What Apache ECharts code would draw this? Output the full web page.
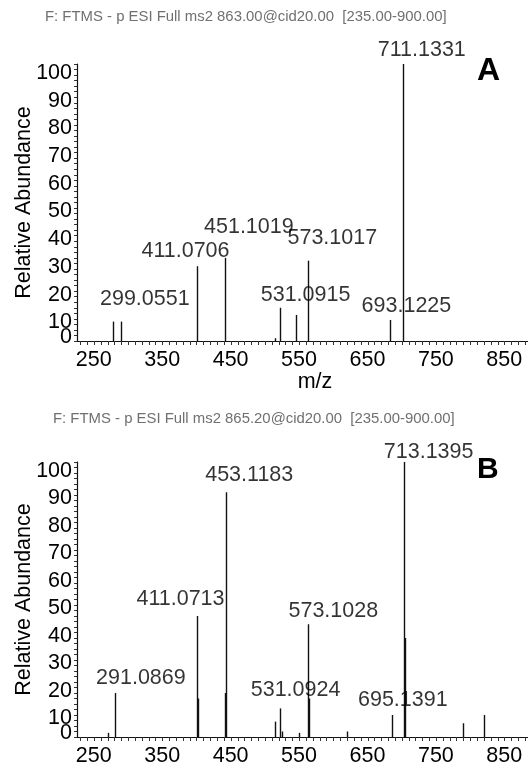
<!DOCTYPE html>
<html><head><meta charset="utf-8">
<script src="https://cdn.jsdelivr.net/npm/echarts@6/dist/echarts.min.js"></script>
<style>html,body{margin:0;padding:0;background:#fff}#c{width:528px;height:765px}</style>
</head><body><div id="c"></div>
<script>
// ---------- data ----------
const xRange = [235, 900];
const xTickLabels = [250, 350, 450, 550, 650, 750, 850];
const yTickLabels = [10, 20, 30, 40, 50, 60, 70, 80, 90, 100];
const yZeroLabel = [0];

const headerA = 'F: FTMS - p ESI Full ms2 863.00@cid20.00  [235.00-900.00]';
const headerB = 'F: FTMS - p ESI Full ms2 865.20@cid20.00  [235.00-900.00]';
const panelLetters = ['A', 'B'];
const xTitle = 'm/z';
const yTitle = 'Relative Abundance';

// Panel A spectrum (m/z, relative abundance)
const peaksA_mz  = [288.0, 299.06, 411.07, 451.10, 524.0, 531.09, 555.0, 573.10, 693.12, 711.13];
const peaksA_int = [7,     7,      27,     30,     1,     12,     9.4,   29,     7.6,    100];
// labelled peaks A
const labA_mz   = [299.06, 411.07, 451.10, 531.09, 573.10, 693.12, 711.13];
const labA_int  = [7, 27, 30, 12, 29, 7.6, 100];
const labA_text = ['299.0551', '411.0706', '451.1019', '531.0915', '573.1017', '693.1225', '711.1331'];

// Panel B spectrum
const peaksB_mz  = [281.0, 291.09, 411.07, 412.0, 452.0, 453.12, 524.0, 531.09, 535.0, 559.0, 573.10, 574.0, 630.0, 695.14, 713.14, 714.0, 799.0, 830.0];
const peaksB_int = [1.5,   16,     44,     14,    16,    89,     5.6,   10.4,   2,     1.5,   41,     14,    2,     8,      100,    36,    5,     8];
const labB_mz   = [291.09, 411.07, 453.12, 531.09, 573.10, 695.14, 713.14];
const labB_int  = [16, 44, 89, 10.4, 41, 8, 100];
const labB_text = ['291.0869', '411.0713', '453.1183', '531.0924', '573.1028', '695.1391', '713.1395'];

// ---------- layout / style ----------
const labOffA = [[24, -22.5], [-12, -15], [24, -31], [26, -13], [24, -23], [16, -13.5], [19, -14]];
const labOffB = [[25.5, -15], [-17, -17], [23, -17], [16, -18], [25, -13], [11, -15], [24.5, -10]];
const FONT = 'Liberation Sans, Arial, sans-serif';
const INK = '#111';

const xMinor = []; for (let v = 240; v <= 900; v += 10) xMinor.push(v);
const yMinor = []; for (let v = 0; v <= 100; v += 2) yMinor.push(v);

const chart = echarts.init(document.getElementById('c'), null, {renderer: 'canvas'});

function renderPeak(params, api) {
  const p0 = api.coord([api.value(0), 0]);
  const p1 = api.coord([api.value(0), api.value(1)]);
  const x = Math.round(p0[0]) + 0.5;
  return {type: 'line', shape: {x1: x, y1: p0[1], x2: x, y2: p1[1]},
          style: {stroke: INK, lineWidth: 1.4}};
}

function xAxisFor(i, withName) {
  return {
    gridIndex: i, type: 'value', min: xRange[0], max: xRange[1],
    name: withName ? xTitle : '', nameLocation: 'middle', nameGap: 30, nameMoveOverlap: false,
    nameTextStyle: {fontSize: 21.5, fontFamily: FONT, color: '#000', padding: [0, 0, 0, 21]},
    axisLine: {show: true, lineStyle: {color: INK, width: 1.2}},
    axisTick: {show: true, customValues: xMinor, length: 4, lineStyle: {color: '#333', width: 1}},
    axisLabel: {customValues: xTickLabels, fontSize: 21.5, fontFamily: FONT, color: '#000',
                margin: 8, padding: [0, 0, 0, 13]},
    splitLine: {show: false}
  };
}
function yAxisFor(i) {
  return {
    gridIndex: i, type: 'value', min: 0, max: 100,
    name: yTitle, nameLocation: 'middle', nameGap: 42, nameMoveOverlap: false,
    nameTextStyle: {fontSize: 21.5, fontFamily: FONT, color: '#000'},
    axisLine: {show: true, lineStyle: {color: INK, width: 1.2}},
    axisTick: {show: true, customValues: yMinor, length: 3, lineStyle: {color: '#333', width: 1}},
    axisLabel: {customValues: yTickLabels, fontSize: 21.5, fontFamily: FONT, color: '#000',
                margin: 5, verticalAlign: 'top', lineHeight: 18},
    splitLine: {show: false}
  };
}
function yZeroAxisFor(i) {
  return {
    gridIndex: i, type: 'value', min: 0, max: 100, position: 'left',
    axisLine: {show: false}, axisTick: {show: false},
    axisLabel: {customValues: yZeroLabel, fontSize: 21.5, fontFamily: FONT, color: '#000',
                margin: 5, verticalAlign: 'bottom', lineHeight: 8},
    splitLine: {show: false}
  };
}
function labelSeries(xi, yi, mz, inten, txt, off) {
  return {
    type: 'scatter', xAxisIndex: xi, yAxisIndex: yi, symbolSize: 0, silent: true, z: 5,
    data: mz.map((m, k) => ({value: [m, inten[k], txt[k]],
                             label: {offset: off[k]}})),
    label: {show: true, position: 'inside', formatter: p => p.value[2],
            fontSize: 21.5, fontFamily: FONT, color: '#000'}
  };
}

const option = {
  backgroundColor: '#fff',
  animation: false,
  grid: [
    {left: 77, top: 64, width: 455, height: 277, outerBoundsMode: 'none', containLabel: false},
    {left: 77, top: 462, width: 455, height: 275, outerBoundsMode: 'none', containLabel: false}
  ],
  xAxis: [xAxisFor(0, true), xAxisFor(1, false)],
  yAxis: [yAxisFor(0), yAxisFor(1), yZeroAxisFor(0), yZeroAxisFor(1)],
  series: [
    {type: 'custom', xAxisIndex: 0, yAxisIndex: 0, renderItem: renderPeak, silent: true,
     data: peaksA_mz.map((m, k) => [m, peaksA_int[k]])},
    {type: 'custom', xAxisIndex: 1, yAxisIndex: 1, renderItem: renderPeak, silent: true,
     data: peaksB_mz.map((m, k) => [m, peaksB_int[k]])},
    labelSeries(0, 0, labA_mz, labA_int, labA_text, labOffA),
    labelSeries(1, 1, labB_mz, labB_int, labB_text, labOffB)
  ],
  graphic: [
    {type: 'text', left: 45, top: 9, style: {text: headerA, fontSize: 14.9, fontFamily: FONT, fill: '#707070'}},
    {type: 'text', left: 53, top: 411, style: {text: headerB, fontSize: 14.9, fontFamily: FONT, fill: '#707070'}},
    {type: 'text', left: 477, top: 55, style: {text: panelLetters[0], fontSize: 32, fontWeight: 'bold', fontFamily: FONT, fill: '#000'}},
    {type: 'text', left: 477, top: 455, style: {text: panelLetters[1], fontSize: 30, fontWeight: 'bold', fontFamily: FONT, fill: '#000'}}
  ]
};
chart.setOption(option);
</script></body></html>
